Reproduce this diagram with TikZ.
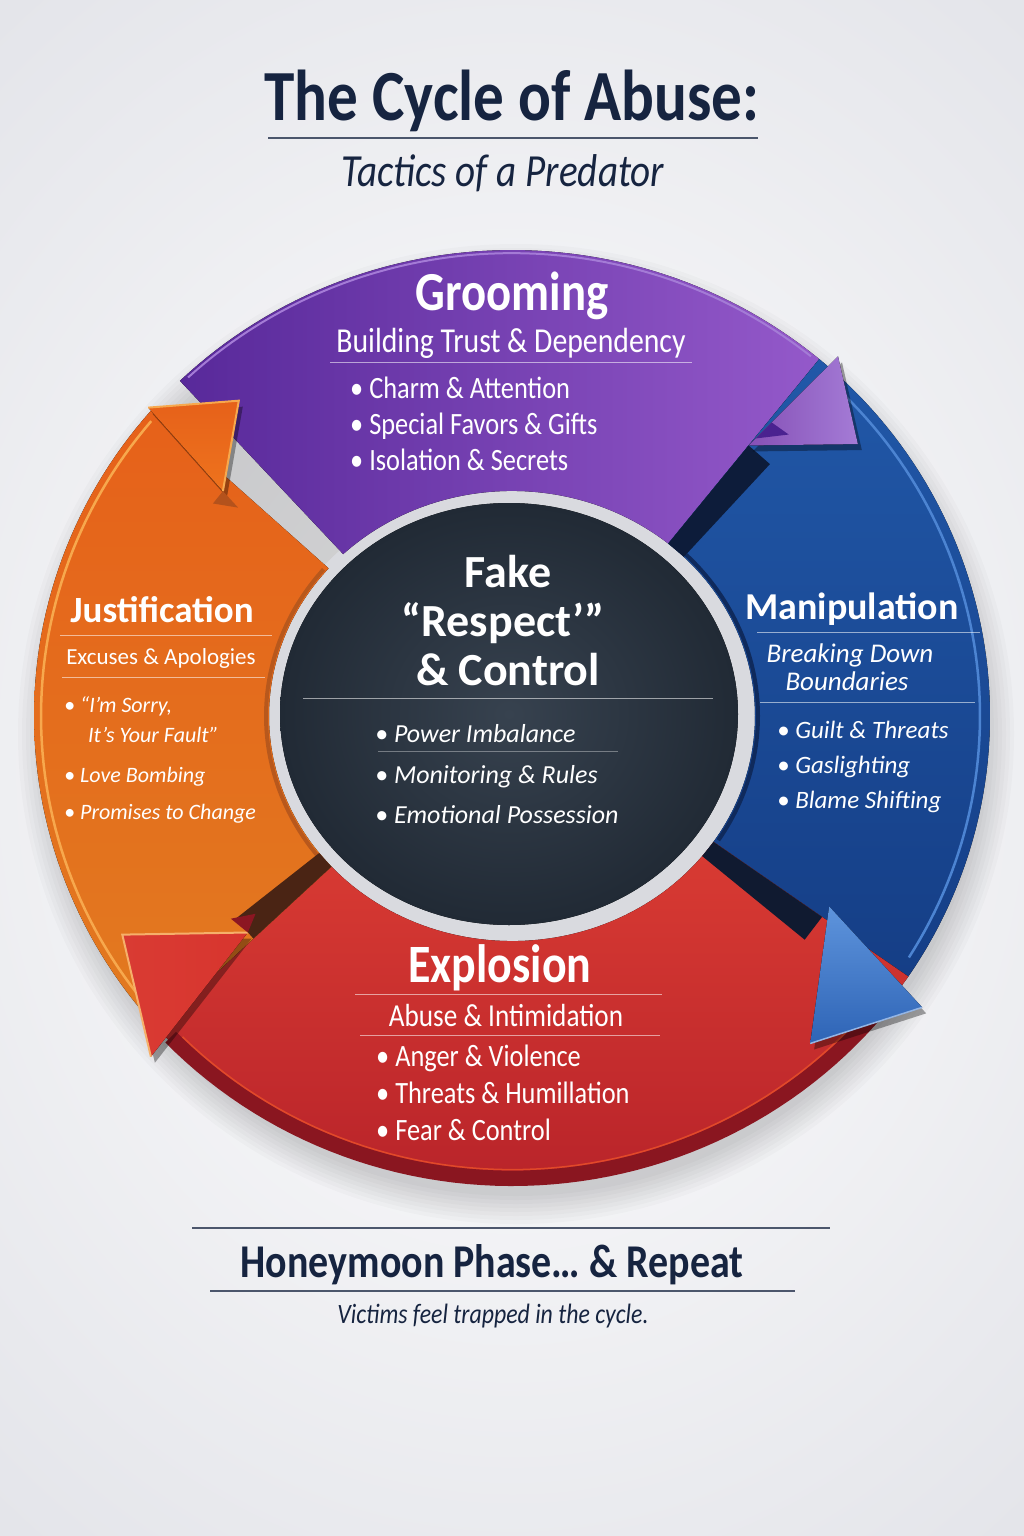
\documentclass[tikz,border=0pt]{standalone}
\usepackage{fontspec}
\setmainfont{Carlito}
\newfontfamily\cf[FakeStretch=0.85]{Carlito}
\usetikzlibrary{calc}
\definecolor{navy}{HTML}{162440}
\definecolor{bgE}{HTML}{E4E5EA}
\definecolor{ringgrey}{HTML}{D9DADF}
\definecolor{slateC}{HTML}{37424F}
\definecolor{slateE}{HTML}{212A35}
\definecolor{pL}{HTML}{58299A}
\definecolor{pR}{HTML}{9459CA}
\definecolor{pRim}{HTML}{A47BD6}
\definecolor{bT}{HTML}{2158A8}
\definecolor{bB}{HTML}{153E86}
\definecolor{bLine}{HTML}{4C84D2}
\definecolor{bIn}{HTML}{0F2A5C}
\definecolor{bHeadA}{HTML}{5E94DC}
\definecolor{bHeadB}{HTML}{2E64B6}
\definecolor{rT}{HTML}{D93B33}
\definecolor{rB}{HTML}{B9242A}
\definecolor{rRim}{HTML}{8A1620}
\definecolor{rHead}{HTML}{D8352E}
\definecolor{oT}{HTML}{E6611A}
\definecolor{oM}{HTML}{F08C26}
\definecolor{oB}{HTML}{E27A20}
\definecolor{oLine}{HTML}{F7A84D}
\definecolor{oIn}{HTML}{B8581C}
\definecolor{oHead}{HTML}{EE731D}
\definecolor{shA}{HTML}{0D1C3A}
\definecolor{shB}{HTML}{101A30}
\definecolor{shC}{HTML}{4A2414}
\definecolor{pFold}{HTML}{4A2290}
\definecolor{rFold}{HTML}{8C1622}
\definecolor{oFold}{HTML}{B4521C}
\definecolor{rEdge}{HTML}{F6B06A}
\begin{document}
\begin{tikzpicture}[x=1pt,y=-1pt,
  declare function={px(\a,\b)=512+\b*cos(\a); py(\a,\b)=716-(1.025*\b-24)*sin(\a);},
  wt/.style={text=white, inner sep=0pt, anchor=base},
  wtl/.style={wt, anchor=base west},
  nv/.style={text=navy, inner sep=0pt, anchor=base},
  sep/.style={white, opacity=.55, line width=1pt},
  nsep/.style={navy, opacity=.75, line width=1.3pt},
  hshadow/.style={black, opacity=.35}]
\useasboundingbox (0,0) rectangle (1024,1536);
% background
\fill[inner color=white, outer color=bgE] (-300,-200) rectangle (1324,1736);
% soft shadow under ring
\foreach \i in {0,...,7}{
  \fill[black, opacity=.018] (516,734) ellipse [x radius={470+4*\i}, y radius={462+4*\i}];
}
% grey ring
\fill[ringgrey] (510,715) ellipse [x radius=246, y radius=228];
% ---------- bodies ----------
% purple
\fill[left color=pL, right color=pR]
  ({px(134,243)},{py(134,243)}) -- plot[domain=134:50,samples=60] ({px(\x,478)},{py(\x,478)})
  -- ({px(50,243)},{py(50,243)}) -- plot[domain=50:134,samples=60] ({px(\x,243)},{py(\x,243)}) -- cycle;
\draw[pRim, line width=2pt] plot[domain=133:51,samples=60] ({px(\x,475)},{py(\x,475)});
% blue
\fill[top color=bT, bottom color=bB]
  ({px(50,243)},{py(50,243)}) -- plot[domain=50:-34,samples=60] ({px(\x,478)},{py(\x,478)})
  -- ({px(-34,243)},{py(-34,243)}) -- plot[domain=-34:50,samples=60] ({px(\x,243)},{py(\x,243)}) -- cycle;
\draw[bLine, line width=2.5pt] plot[domain=46:-32,samples=60] ({px(\x,468)},{py(\x,468)});
\draw[bIn, line width=4pt] plot[domain=45:-33,samples=60] ({px(\x,246)},{py(\x,246)});
% red
\fill[top color=rT, bottom color=rB]
  ({px(-34,243)},{py(-34,243)}) -- plot[domain=-34:-138,samples=60] ({px(\x,478)},{py(\x,478)})
  -- ({px(-138,243)},{py(-138,243)}) -- plot[domain=-138:-34,samples=60] ({px(\x,243)},{py(\x,243)}) -- cycle;
\fill[rRim] plot[domain=-36:-136,samples=60] ({px(\x,482)},{py(\x,482)})
  -- plot[domain=-136:-36,samples=60] ({px(\x,467)},{py(\x,467)}) -- cycle;
\draw[rT!80!orange, line width=1.5pt] plot[domain=-37:-135,samples=60] ({px(\x,466)},{py(\x,466)});
% orange
\fill[top color=oT, middle color=oM, bottom color=oB]
  ({px(222,243)},{py(222,243)}) -- plot[domain=222:139,samples=60] ({px(\x,478)},{py(\x,478)})
  -- ({px(139,243)},{py(139,243)}) -- plot[domain=139:222,samples=60] ({px(\x,243)},{py(\x,243)}) -- cycle;
\draw[oLine, line width=2.5pt] plot[domain=220:140,samples=60] ({px(\x,471)},{py(\x,471)});
\draw[oIn, line width=4pt] plot[domain=218:140,samples=60] ({px(\x,246)},{py(\x,246)});
% ---------- shadow strips (3D sides) ----------
\fill[shA] ({px(50,243)},{py(50,243)}) -- ({px(50,368)},{py(50,368)}) -- ({px(45.5,368)},{py(45.5,368)}) -- ({px(45,243)},{py(45,243)}) -- cycle;
\fill[shB] ({px(-34,243)},{py(-34,243)}) -- ({px(-34,374)},{py(-34,374)}) -- ({px(-38.5,374)},{py(-38.5,374)}) -- ({px(-38.5,243)},{py(-38.5,243)}) -- cycle;
\fill[shC] ({px(-138,243)},{py(-138,243)}) -- ({px(-138,348)},{py(-138,348)}) -- ({px(-142.5,348)},{py(-142.5,348)}) -- ({px(-142.5,243)},{py(-142.5,243)}) -- cycle;
% dark centre
\fill[inner color=slateC, outer color=slateE] (509,714) ellipse [x radius=229, y radius=211];
% ---------- arrowheads ----------
% purple
\fill[hshadow] ({px(50,368)+4},{py(50,368)+6}) -- ({px(48.5,492)+4},{py(48.5,492)+6}) -- ({px(39,445)+4},{py(39,445)+6}) -- cycle;
\fill[left color=pR!90!black, right color=pRim] ({px(50,368)},{py(50,368)}) -- ({px(48.5,492)},{py(48.5,492)}) -- ({px(39,445)},{py(39,445)}) -- cycle;
\fill[pFold] ({px(49.5,400)},{py(49.5,400)}) -- ({px(46.5,402)},{py(46.5,402)}) -- ({px(49.8,378)},{py(49.8,378)}) -- cycle;
% blue
\fill[hshadow] ({px(-32,374)+4},{py(-32,374)+6}) -- ({px(-36,507)+4},{py(-36,507)+6}) -- ({px(-48.5,450)+4},{py(-48.5,450)+6}) -- cycle;
\fill[top color=bHeadA, bottom color=bHeadB] ({px(-32,374)},{py(-32,374)}) -- ({px(-36,507)},{py(-36,507)}) -- ({px(-48.5,450)},{py(-48.5,450)}) -- cycle;
\draw[bLine!60!white, line width=1.5pt] ({px(-36,507)},{py(-36,507)}) -- ({px(-48.5,450)},{py(-48.5,450)});
% red
\fill[hshadow] ({px(-139.4,348)+4},{py(-139.4,348)+6}) -- ({px(-136,502)+4},{py(-136,502)+6}) -- ({px(-150,450)+4},{py(-150,450)+6}) -- cycle;
\fill[left color=rT, right color=rHead] ({px(-139.4,348)},{py(-139.4,348)}) -- ({px(-136,502)},{py(-136,502)}) -- ({px(-150,450)},{py(-150,450)}) -- cycle;
\draw[rEdge, line width=2pt] ({px(-136,502)},{py(-136,502)}) -- ({px(-150,450)},{py(-150,450)}) -- ({px(-139.4,348)},{py(-139.4,348)});
\fill[rFold] ({px(-139.4,348)},{py(-139.4,348)}) -- ({px(-141,330)},{py(-141,330)}) -- ({px(-143,352)},{py(-143,352)}) -- cycle;
% orange
\fill[hshadow] ({px(141,372)+4},{py(141,372)+6}) -- ({px(139,482)+4},{py(139,482)+6}) -- ({px(130,425)+4},{py(130,425)+6}) -- cycle;
\fill[top color=oT, bottom color=oHead] ({px(141,372)},{py(141,372)}) -- ({px(139,482)},{py(139,482)}) -- ({px(130,425)},{py(130,425)}) -- cycle;
\draw[oLine, line width=2pt] ({px(139,482)},{py(139,482)}) -- ({px(130,425)},{py(130,425)}) -- ({px(141,372)},{py(141,372)});
\fill[oFold] ({px(141,372)},{py(141,372)}) -- ({px(141.5,350)},{py(141.5,350)}) -- ({px(143.5,372)},{py(143.5,372)}) -- cycle;
% ---------- title ----------
\node[nv, font=\cf\bfseries\fontsize{72}{80}\selectfont] (title) at (512,121) {The Cycle of Abuse:};
\draw[nsep] (268,138) -- (758,138);
\node[nv, font=\cf\itshape\fontsize{46}{52}\selectfont] (tag) at (503,186) {Tactics of a Predator};
% ---------- Grooming ----------
\node[wt, font=\cf\bfseries\fontsize{55}{60}\selectfont] (groomT) at (512,310) {Grooming};
\node[wt, font=\cf\fontsize{35}{40}\selectfont] (groomS) at (511,352) {Building Trust \& Dependency};
\draw[sep] (330,362) -- (692,362);
\node[wtl, font=\cf\fontsize{31}{36}\selectfont] (g1) at (350,398) {• Charm \& Attention};
\node[wtl, font=\cf\fontsize{31}{36}\selectfont] (g2) at (350,434) {• Special Favors \& Gifts};
\node[wtl, font=\cf\fontsize{31}{36}\selectfont] (g3) at (350,470) {• Isolation \& Secrets};
% ---------- Centre ----------
\node[wt, font=\bfseries\fontsize{46}{50}\selectfont] (c1) at (508,587) {Fake};
\node[wt, font=\bfseries\fontsize{46}{50}\selectfont] (c2) at (503,636) {“Respect’”};
\node[wt, font=\bfseries\fontsize{46}{50}\selectfont] (c3) at (508,685) {\& Control};
\draw[sep] (303,698) -- (713,698);
\node[wtl, font=\itshape\fontsize{26}{30}\selectfont] (cb1) at (375,742) {• Power Imbalance};
\draw[sep, opacity=.35] (378,751) -- (618,751);
\node[wtl, font=\itshape\fontsize{26}{30}\selectfont] (cb2) at (375,783) {• Monitoring \& Rules};
\node[wtl, font=\itshape\fontsize{26}{30}\selectfont] (cb3) at (375,823) {• Emotional Possession};
% ---------- Justification ----------
\node[wt, font=\bfseries\fontsize{37}{42}\selectfont] (jT) at (162,622) {Justification};
\draw[sep] (60,635) -- (272,635);
\node[wt, font=\fontsize{23}{28}\selectfont] (jS) at (161,664) {Excuses \& Apologies};
\draw[sep] (62,677) -- (265,677);
\node[wtl, font=\itshape\fontsize{22}{26}\selectfont] (j1) at (64,712) {• “I’m Sorry,};
\node[wtl, font=\itshape\fontsize{22}{26}\selectfont] (j1b) at (88,742) {It’s Your Fault”};
\node[wtl, font=\itshape\fontsize{22}{26}\selectfont] (j2) at (64,782) {• Love Bombing};
\node[wtl, font=\itshape\fontsize{22}{26}\selectfont] (j3) at (64,819) {• Promises to Change};
% ---------- Manipulation ----------
\node[wt, font=\bfseries\fontsize{38}{42}\selectfont] (mT) at (852,619) {Manipulation};
\draw[sep] (757,632) -- (980,632);
\node[wt, font=\itshape\fontsize{27}{30}\selectfont] (mS1) at (850,662) {Breaking Down};
\node[wt, font=\itshape\fontsize{27}{30}\selectfont] (mS2) at (847,690) {Boundaries};
\draw[sep] (760,702) -- (975,702);
\node[wtl, font=\itshape\fontsize{25}{28}\selectfont] (m1) at (777,738) {• Guilt \& Threats};
\node[wtl, font=\itshape\fontsize{25}{28}\selectfont] (m2) at (777,773) {• Gaslighting};
\node[wtl, font=\itshape\fontsize{25}{28}\selectfont] (m3) at (777,808) {• Blame Shifting};
% ---------- Explosion ----------
\node[wt, font=\cf\bfseries\fontsize{54}{60}\selectfont] (eT) at (500,982) {Explosion};
\draw[sep] (355,994) -- (662,994);
\node[wt, font=\cf\fontsize{32}{36}\selectfont] (eS) at (506,1026) {Abuse \& Intimidation};
\draw[sep] (360,1035) -- (660,1035);
\node[wtl, font=\cf\fontsize{31}{36}\selectfont] (e1) at (376,1066) {• Anger \& Violence};
\node[wtl, font=\cf\fontsize{31}{36}\selectfont] (e2) at (376,1103) {• Threats \& Humillation};
\node[wtl, font=\cf\fontsize{31}{36}\selectfont] (e3) at (376,1140) {• Fear \& Control};
% ---------- bottom ----------
\draw[nsep] (192,1228) -- (830,1228);
\node[nv, font=\cf\bfseries\fontsize{47}{52}\selectfont] (hT) at (492,1277) {Honeymoon Phase… \& Repeat};
\draw[nsep] (210,1291) -- (795,1291);
\node[nv, font=\cf\itshape\fontsize{28}{32}\selectfont] (vT) at (493,1323) {Victims feel trapped in the cycle.};
\end{tikzpicture}
\end{document}
